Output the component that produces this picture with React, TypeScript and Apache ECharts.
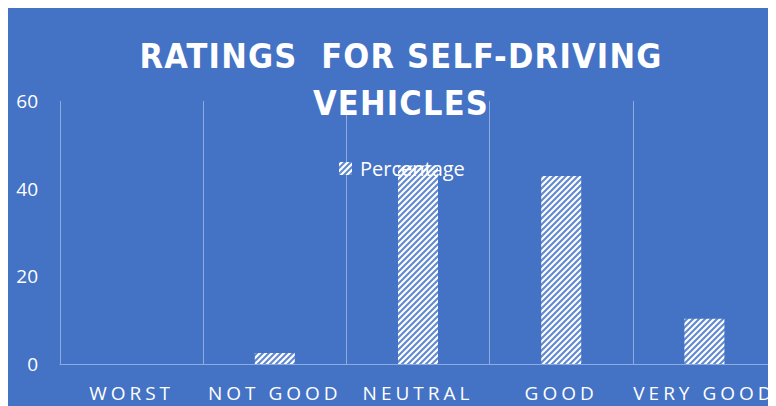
import React, { useEffect, useRef } from 'react';
import * as echarts from 'echarts';

const categories = ['WORST', 'NOT GOOD', 'NEUTRAL', 'GOOD', 'VERY GOOD'];
const percentages = [0, 2.5, 45.3, 42.9, 10.3];
const yTicks = [0, 20, 40, 60];
const seriesName = 'Percentage';
const titleText = 'RATINGS  FOR SELF-DRIVING\nVEHICLES';

const BG = '#4472C4';
const GRID = '#8FAADC';

function makePattern(): HTMLCanvasElement {
  const c = document.createElement('canvas');
  c.width = 6;
  c.height = 6;
  const ctx = c.getContext('2d')!;
  ctx.fillStyle = '#ffffff';
  ctx.fillRect(0, 0, 6, 6);
  ctx.strokeStyle = '#6189d1';
  ctx.lineWidth = 2.1;
  ctx.beginPath();
  ctx.moveTo(-1, 7); ctx.lineTo(7, -1);
  ctx.moveTo(-4, 4); ctx.lineTo(4, -4);
  ctx.moveTo(2, 10); ctx.lineTo(10, 2);
  ctx.stroke();
  return c;
}

export default function App() {
  const ref = useRef<HTMLDivElement>(null);
  useEffect(() => {
    if (!ref.current) return;
    const chart = echarts.init(ref.current, undefined, { renderer: 'svg' });
    const pattern = { image: makePattern(), repeat: 'repeat' as const };
    chart.setOption({
      animation: false,
      backgroundColor: BG,
      graphic: [
        {
          type: 'text',
          x: 393,
          y: 24,
          z: 10,
          style: {
            text: titleText,
            fill: '#ffffff',
            fontSize: 34,
            fontWeight: 'bold',
            lineHeight: 47,
            fontFamily: "'Liberation Sans Narrow', 'DejaVu Sans Condensed', sans-serif",
            textAlign: 'center',
            textVerticalAlign: 'top',
          },
        },
      ],
      legend: {
        data: [seriesName],
        left: 331,
        top: 150,
        padding: 0,
        icon: 'rect',
        itemWidth: 13,
        itemHeight: 13,
        textStyle: {
          color: '#ffffff',
          fontSize: 20,
          lineHeight: 21,
          padding: [0, 0, 0, 3],
          fontFamily: "'Open Sans', sans-serif",
        },
      },
      grid: { left: 52, top: 93, width: 725, height: 263, containLabel: false },
      xAxis: {
        type: 'category',
        data: categories,
        boundaryGap: true,
        axisTick: { show: false },
        axisLine: { show: true, lineStyle: { color: GRID, width: 1 } },
        splitLine: { show: true, interval: 0, lineStyle: { color: GRID, width: 1 } },
        axisLabel: {
          color: '#ffffff',
          fontSize: 19,
          lineHeight: 20,
          margin: 19,
          interval: 0,
          fontFamily: "'Open Sans', Lato, sans-serif",
        },
      },
      yAxis: {
        type: 'value',
        min: yTicks[0],
        max: yTicks[yTicks.length - 1],
        interval: 20,
        axisLine: { show: false },
        axisTick: { show: false },
        splitLine: { show: false },
        axisLabel: {
          color: '#ffffff',
          fontSize: 19,
          margin: 22,
          fontFamily: "'Open Sans', sans-serif",
        },
      },
      series: [
        {
          name: seriesName,
          type: 'bar',
          data: percentages,
          barWidth: 40,
          itemStyle: { color: pattern },
        },
      ],
    });
    return () => chart.dispose();
  }, []);
  return (
    <>
      <style>{`
        #chartbox text { white-space: pre; }
        #chartbox text[style*="Narrow"] { letter-spacing: 1.2px; }
        #chartbox text[style*="Lato"] { letter-spacing: 4px; }
      `}</style>
      <div id="chartbox" ref={ref} style={{ width: 768, height: 398 }} />
    </>
  );
}
